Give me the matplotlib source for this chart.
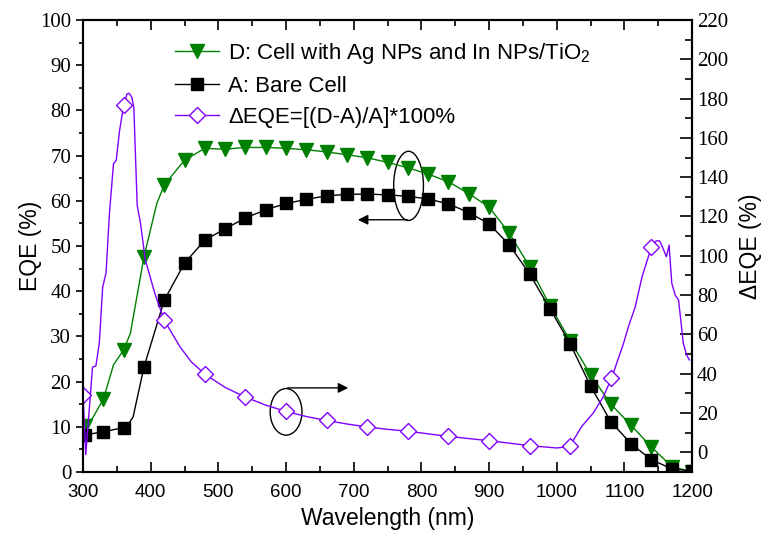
import numpy as np
import matplotlib.pyplot as plt
from matplotlib.patches import Ellipse
from matplotlib.ticker import MultipleLocator

plt.rcParams["font.family"] = ["Liberation Sans", "DejaVu Sans"]
plt.rcParams["mathtext.default"] = "regular"

# A: bare cell (markers every 30 nm)
a_wl = [303, 330, 360, 390, 420, 450, 480, 510, 540, 570, 600, 630, 660, 690,
        720, 750, 780, 810, 840, 870, 900, 930, 960, 990, 1020, 1050, 1080,
        1110, 1140, 1170, 1200]
a_eqe = [8.2, 8.9, 9.8, 23.2, 38.0, 46.2, 51.3, 53.8, 56.2, 58.0, 59.4, 60.3,
         61.1, 61.4, 61.5, 61.3, 61.0, 60.4, 59.3, 57.4, 54.9, 50.2, 43.8,
         36.1, 28.3, 19.0, 11.1, 6.2, 2.7, 0.7, 0.2]
# extra points on the A curve (knee near 370 nm)
a_line_wl = [303, 330, 360, 368, 374, 390, 420, 450, 480, 510, 540, 570, 600,
             630, 660, 690, 720, 750, 780, 810, 840, 870, 900, 930, 960, 990,
             1020, 1050, 1080, 1110, 1140, 1170, 1200]
a_line = [8.2, 8.9, 9.8, 10.8, 12.2, 23.2, 38.0, 46.2, 51.3, 53.8, 56.2, 58.0,
          59.4, 60.3, 61.1, 61.4, 61.5, 61.3, 61.0, 60.4, 59.3, 57.4, 54.9,
          50.2, 43.8, 36.1, 28.3, 19.0, 11.1, 6.2, 2.7, 0.7, 0.2]

# D: cell with Ag NPs and In NPs/TiO2
d_wl = a_wl
d_eqe = [10.2, 16.1, 27.0, 47.6, 63.5, 69.0, 71.6, 71.4, 71.8, 71.8, 71.6,
         71.3, 70.8, 70.2, 69.5, 68.5, 67.3, 65.9, 64.2, 61.6, 58.6, 52.8,
         45.4, 36.8, 29.0, 21.5, 15.0, 10.3, 5.5, 1.2, 0.0]
d_line_wl = [303, 314, 330, 345, 360, 370, 390, 409, 420, 450, 480, 510, 540,
             570, 600, 630, 660, 690, 720, 750, 780, 810, 840, 870, 900, 930,
             960, 990, 1020, 1050, 1080, 1110, 1140, 1170, 1200]
d_line = [10.2, 11.9, 16.1, 23.7, 27.0, 30.7, 47.6, 59.4, 63.5, 69.0, 71.6,
          71.4, 71.8, 71.8, 71.6, 71.3, 70.8, 70.2, 69.5, 68.5, 67.3, 65.9,
          64.2, 61.6, 58.6, 52.8, 45.4, 36.8, 29.0, 21.5, 15.0, 10.3, 5.5, 1.2,
          0.0]

# Delta EQE (right axis)
de_wl = [300, 360, 420, 480, 540, 600, 660, 720, 780, 840, 900, 960, 1020,
         1080, 1140]
de_val = [29.0, 176.5, 67.2, 39.8, 28.1, 20.8, 16.2, 12.9, 10.7, 8.1, 5.9, 3.4,
          3.0, 37.8, 104.6]
de_line_wl = [300, 304, 314, 319, 324, 329, 334, 339, 345, 349, 354, 360, 365,
              368, 372, 375, 380, 385, 392, 397, 406, 420, 443, 460, 480, 510,
              540, 570, 600, 630, 660, 690, 720, 750, 780, 840, 900, 960, 1000,
              1020, 1025, 1037, 1054, 1069, 1081, 1098, 1106, 1116, 1126, 1140,
              1147, 1152, 1157, 1162, 1166, 1170, 1175, 1180, 1187, 1192, 1196]
de_line = [29.0, -1.2, 43.3, 44.0, 55.5, 84.0, 91.4, 121.5, 146.9, 148.6,
           163.8, 176.5, 182.4, 182.7, 180.7, 175.6, 125.7, 116.4, 97.8, 91.9,
           80.9, 67.2, 53.8, 46.0, 39.8, 33.0, 28.1, 24.0, 20.8, 18.2, 16.2,
           14.4, 12.9, 11.7, 10.7, 8.1, 5.9, 3.4, 2.2, 3.0, 6.4, 13.2, 20.0,
           28.4, 37.8, 54.7, 64.0, 74.0, 89.3, 104.6, 107.6, 107.6, 103.8, 99.5,
           105.4, 86.0, 80.0, 77.5, 55.5, 49.5, 47.0]

green = "#008000"
purple = "#8000ff"
serif = ["Liberation Serif", "DejaVu Serif"]

fig = plt.figure(figsize=(7.69, 5.40), dpi=100)
ax = fig.add_axes([0.108, 0.126, 0.792, 0.837])
ax2 = ax.twinx()

ax.plot(d_line_wl, d_line, color=green, lw=1)
ax.plot(d_wl, d_eqe, ls="none", marker="v", ms=10, color=green)
ax.plot(a_line_wl, a_line, color="black", lw=1)
ax.plot(a_wl, a_eqe, ls="none", marker="s", ms=8.5, color="black")
ax2.plot(de_line_wl, de_line, color=purple, lw=1)
ax2.plot(de_wl, de_val, ls="none", marker="D", ms=8, mfc="white",
         mec=purple, mew=1)

# legend handles
hd, = ax.plot([], [], color=green, lw=1, marker="v", ms=10)
ha, = ax.plot([], [], color="black", lw=1, marker="s", ms=8.5)
hde, = ax.plot([], [], color=purple, lw=1, marker="D", ms=8, mfc="white",
               mec=purple)
ax.legend([hd, ha, hde],
          ["D: Cell with Ag NPs and In NPs/TiO$_2$", "A: Bare Cell",
           "\u0394EQE=[(D-A)/A]*100%"],
          loc="upper left", bbox_to_anchor=(0.118, 0.998), frameon=False,
          fontsize=16, handlelength=2.0, labelspacing=0.45, handletextpad=0.4)

ax.set_xlim(300, 1200)
ax.set_ylim(0, 100)
ax2.set_ylim(-10, 220)

ax.xaxis.set_major_locator(MultipleLocator(100))
ax.xaxis.set_minor_locator(MultipleLocator(50))
ax.yaxis.set_major_locator(MultipleLocator(10))
ax.yaxis.set_minor_locator(MultipleLocator(5))
ax2.yaxis.set_major_locator(MultipleLocator(20))
ax2.yaxis.set_minor_locator(MultipleLocator(10))
ax2.set_yticks(np.arange(0, 221, 20))

ax.tick_params(axis="x", which="both", direction="in", top=True,
               labelsize=13.5, pad=9)
ax.tick_params(axis="x", which="major", length=7, width=1.2)
ax.tick_params(axis="x", which="minor", length=4, width=1.2)
ax.tick_params(axis="y", which="major", direction="out", length=5, width=1.2,
               labelsize=15)
ax.tick_params(axis="y", which="minor", direction="out", length=3, width=1.2)
ax2.tick_params(axis="y", which="major", direction="in", length=9, width=1.2,
                labelsize=15)
ax2.tick_params(axis="y", which="minor", direction="in", length=5, width=1.2)
for lab in ax.get_yticklabels() + ax2.get_yticklabels():
    lab.set_family(serif)

for a in (ax, ax2):
    for s in a.spines.values():
        s.set_linewidth(1.5)

ax.set_xlabel("Wavelength (nm)", fontsize=16.5, labelpad=4)
ax.set_ylabel("EQE (%)", fontsize=16.5, labelpad=-1)
ax2.set_ylabel("\u0394EQE (%)", fontsize=16.5, labelpad=8)

# ellipse + arrow pointing to left axis
ax.add_patch(Ellipse((781, 63.3), 44, 15.3, fill=False, ec="black", lw=1))
ax.annotate("", xy=(702, 55.8), xytext=(783, 55.8),
            arrowprops=dict(arrowstyle="-|>", color="black", lw=1,
                            mutation_scale=15))
# ellipse + arrow pointing to right axis
ax.add_patch(Ellipse((600, 13.3), 47, 10.3, fill=False, ec="black", lw=1))
ax.annotate("", xy=(696, 18.6), xytext=(598, 18.6),
            arrowprops=dict(arrowstyle="-|>", color="black", lw=1,
                            mutation_scale=15))

fig.savefig("out.png", dpi=100)
